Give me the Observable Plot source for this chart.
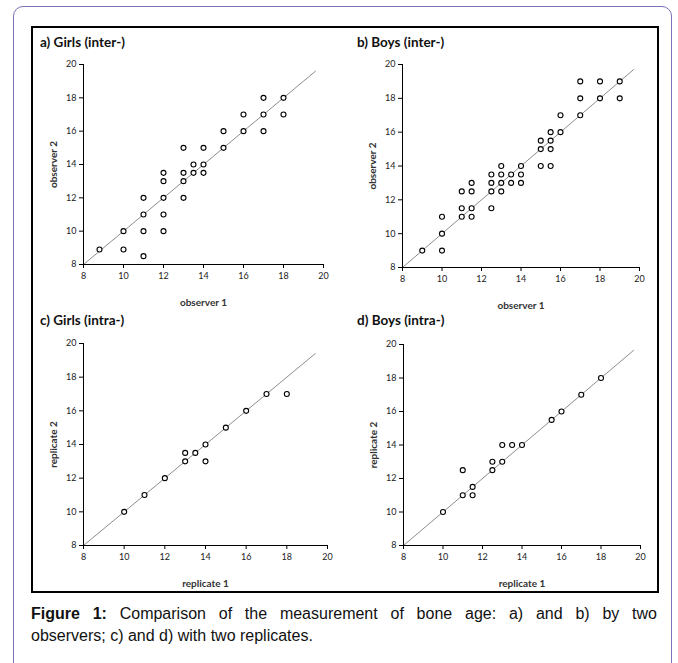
<!DOCTYPE html>
<html><head><meta charset="utf-8">
<script src="https://cdn.jsdelivr.net/npm/d3@7"></script>
<script src="https://cdn.jsdelivr.net/npm/@observablehq/plot@0.6"></script>
<style>
body{margin:0;background:#fff;width:678px;height:663px;overflow:hidden;position:relative;font-family:Lato,sans-serif}
#frame{position:absolute;left:13px;top:6px;width:659px;height:720px;border:1.5px solid #7a72b6;border-radius:10px;box-sizing:border-box}
#box{position:absolute;left:31px;top:26px;width:628px;height:567px;border:2px solid #000;box-sizing:border-box}
.title{position:absolute;font:bold 13.5px/13px Lato,sans-serif;color:#111;white-space:nowrap}
.panel{position:absolute}
.panel svg{overflow:visible}
#caption{position:absolute;left:31px;top:603px;width:626px;font:16px/22px "Liberation Sans",Arial,sans-serif;color:#111}
#caption .l1{text-align:justify;text-align-last:justify}
</style></head><body>
<div id="frame"></div>
<div id="box"></div>
<div id="caption"><div class="l1"><b>Figure 1:</b> Comparison of the measurement of bone age: a) and b) by two</div><div>observers; c) and d) with two replicates.</div></div>
<script>
// ---- data ----
const tickValues = [8, 10, 12, 14, 16, 18, 20];
const panelTitles = ["a) Girls (inter-)", "b) Boys (inter-)", "c) Girls (intra-)", "d) Boys (intra-)"];
const xLabels = ["observer 1", "observer 1", "replicate 1", "replicate 1"];
const yLabels = ["observer 2", "observer 2", "replicate 2", "replicate 2"];

const girlsInterX = [8.8,10,10,11,11,11,11,12,12,12,12,12,13,13,13,13,13.5,13.5,14,14,14,15,15,16,16,17,17,17,18,18];
const girlsInterY = [8.9,8.9,10,8.5,10,11,12,10,11,12,13,13.5,12,13,13.5,15,14,13.5,14,13.5,15,15,16,16,17,17,18,16,18,17];

const boysInterX = [9,10,10,10,11,11,11,11.5,11.5,11.5,11.5,12.5,12.5,12.5,12.5,13,13,13,13,13.5,13.5,14,14,14,15,15,15,15.5,15.5,15.5,15.5,16,16,17,17,17,18,18,19,19];
const boysInterY = [9,9,10,11,11,11.5,12.5,11,11.5,12.5,13,11.5,12.5,13,13.5,12.5,13,13.5,14,13.5,13,14,13.5,13,14,15,15.5,14,15,15.5,16,16,17,17,18,19,18,19,19,18];

const girlsIntraX = [10,11,12,13,13,13.5,14,14,15,16,17,18];
const girlsIntraY = [10,11,12,13,13.5,13.5,14,13,15,16,17,17];

const boysIntraX = [10,11,11,11.5,11.5,12.5,12.5,13,13,13.5,14,15.5,16,17,18];
const boysIntraY = [10,11,12.5,11,11.5,12.5,13,13,14,14,14,15.5,16,17,18];

// identity-line extents (from 8 to the drawn end)
const identityA = [8, 19.6];
const identityB = [8, 19.7];
const identityC = [8, 19.4];
const identityD = [8, 19.65];

// ---- layout (page pixels) ----
const layout = [
  {x0: 83, x1: 323, yTop: 64, yBot: 264, svgLeft: 31, titleLeft: 40, titleTop: 36, xs: girlsInterX, ys: girlsInterY, diag: identityA},
  {x0: 402, x1: 639, yTop: 64, yBot: 267, svgLeft: 350, titleLeft: 357, titleTop: 36, xs: boysInterX, ys: boysInterY, diag: identityB},
  {x0: 83, x1: 327, yTop: 343, yBot: 545, svgLeft: 31, titleLeft: 40, titleTop: 313.5, xs: girlsIntraX, ys: girlsIntraY, diag: identityC},
  {x0: 403, x1: 640, yTop: 344, yBot: 545, svgLeft: 351, titleLeft: 357, titleTop: 313.5, xs: boysIntraX, ys: boysIntraY, diag: identityD}
];

layout.forEach((L, i) => {
  const pts = L.xs.map((x, k) => ({x, y: L.ys[k]}));
  const mT = 10, mB = 50, mR = 15;
  const mL = L.x0 - L.svgLeft;
  const chart = Plot.plot({
    width: L.x1 - L.svgLeft + mR,
    height: mT + (L.yBot - L.yTop) + mB,
    marginLeft: mL, marginRight: mR, marginTop: mT, marginBottom: mB,
    x: {domain: [8, 20]},
    y: {domain: [8, 20]},
    style: {fontFamily: "Lato, sans-serif", fontSize: "9px", color: "#000", background: "transparent", overflow: "visible"},
    marks: [
      Plot.line(L.diag, {x: d => d, y: d => d, stroke: "#8c8c8c", strokeWidth: 1}),
      Plot.ruleX([8], {stroke: "#000", strokeWidth: 1}),
      Plot.ruleY([8], {stroke: "#000", strokeWidth: 1}),
      Plot.axisX({ticks: tickValues, tickSize: 4, tickPadding: 4, tickFormat: d => String(d), label: xLabels[i], labelAnchor: "center", labelOffset: 41, labelArrow: false, fill: "#222"}),
      Plot.axisY({ticks: tickValues, tickSize: 4, tickPadding: 3, tickFormat: d => String(d), label: yLabels[i], labelAnchor: "center", labelOffset: 34, labelArrow: false, fill: "#222"}),
      Plot.dot(pts, {x: "x", y: "y", r: 2.5, stroke: "#000", fill: "#fff", strokeWidth: 1.1})
    ]
  });
  const wrap = document.createElement("div");
  wrap.className = "panel";
  wrap.style.left = L.svgLeft + "px";
  wrap.style.top = (L.yTop - mT) + "px";
  wrap.appendChild(chart);
  document.body.appendChild(wrap);
  d3.select(chart).selectAll('g[aria-label="x-axis label"] text, g[aria-label="y-axis label"] text')
    .style("font-weight", "bold").style("font-size", "10px").attr("fill", "#333");

  const t = document.createElement("div");
  t.className = "title";
  t.style.left = L.titleLeft + "px";
  t.style.top = L.titleTop + "px";
  t.textContent = panelTitles[i];
  document.body.appendChild(t);
});
</script>
</body></html>
